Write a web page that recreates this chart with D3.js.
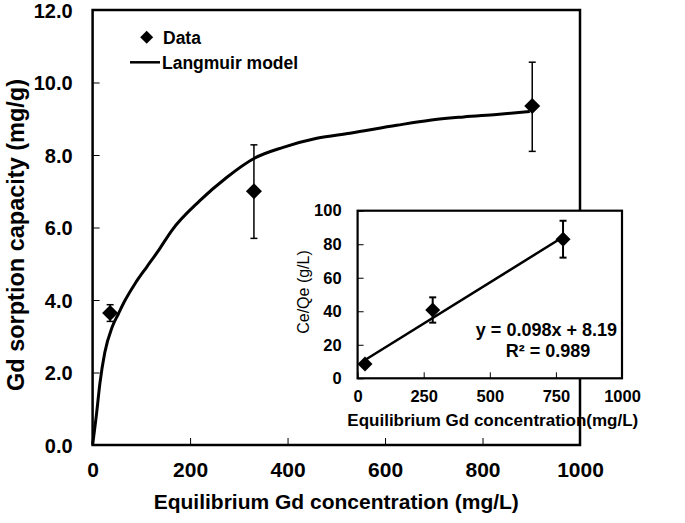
<!DOCTYPE html>
<html>
<head>
<meta charset="utf-8">
<script src="https://cdn.jsdelivr.net/npm/d3@7"></script>
<style>
  html, body { margin: 0; padding: 0; background: #fff; }
  svg { display: block; }
  text { font-family: "Liberation Sans", Arial, sans-serif; fill: #000; }
</style>
</head>
<body>
<svg id="chart" width="685" height="523"></svg>
<script>
// ---- Main chart data ----
const dataX = [36, 331, 902];
const dataY = [3.64, 7.0, 9.35];
const dataLow = [3.41, 5.70, 8.10];
const dataHigh = [3.87, 8.28, 10.56];

const modelX = [0, 8, 15, 25, 40, 53, 65, 87, 111, 135, 162, 220, 275, 332, 391, 460, 528, 624, 692, 761, 829, 897];
const modelY = [0, 0.85, 1.7, 2.55, 3.25, 3.62, 3.95, 4.45, 4.91, 5.36, 5.91, 6.74, 7.38, 7.91, 8.21, 8.46, 8.6, 8.82, 8.96, 9.05, 9.12, 9.2];

const mainXTicks = [0, 200, 400, 600, 800, 1000];
const mainYTicks = [0, 2, 4, 6, 8, 10, 12];

// ---- Inset data ----
const insetX = [28, 284, 777];
const insetY = [8.5, 40.8, 82.9];
const insetLow = [null, 33.2, 72.0];
const insetHigh = [null, 48.3, 94.0];
const fitX = [28, 777];
const fitY = [10.9, 84.3];
const insetXTicks = [0, 250, 500, 750, 1000];
const insetYTicks = [0, 20, 40, 60, 80, 100];

const svg = d3.select("#chart");
const FONT = "Liberation Sans, Arial, sans-serif";

// ---------- Main chart ----------
const x = d3.scaleLinear().domain([0, 1000]).range([92.6, 580]);
const y = d3.scaleLinear().domain([0, 12]).range([445, 10]);

svg.append("g")
  .attr("transform", `translate(0,${y(0)})`)
  .call(d3.axisBottom(x).tickValues(mainXTicks).tickSize(-7).tickPadding(17).tickFormat(d3.format("d")))
  .call(g => g.select(".domain").remove())
  .call(g => g.selectAll(".tick line").attr("stroke", "#000").attr("stroke-width", 1))
  .call(g => g.selectAll("text").attr("font-size", 21).attr("font-weight", "bold").attr("font-family", FONT));

svg.append("g")
  .attr("transform", `translate(${x(0)},0)`)
  .call(d3.axisLeft(y).tickValues(mainYTicks).tickSize(-7).tickPadding(20).tickFormat(d3.format(".1f")))
  .call(g => g.select(".domain").remove())
  .call(g => g.selectAll(".tick line").attr("stroke", "#000").attr("stroke-width", 1))
  .call(g => g.selectAll("text").attr("font-size", 20).attr("font-weight", "bold").attr("font-family", FONT).attr("dy", "0.36em"));

svg.append("rect")
  .attr("x", x(0)).attr("y", y(12))
  .attr("width", x(1000) - x(0)).attr("height", y(0) - y(12))
  .attr("fill", "none").attr("stroke", "#000").attr("stroke-width", 2.5);

// Langmuir curve
const modelPts = modelX.map((v, i) => [v, modelY[i]]);
svg.append("path")
  .datum(modelPts)
  .attr("fill", "none").attr("stroke", "#000").attr("stroke-width", 3)
  .attr("d", d3.line().x(d => x(d[0])).y(d => y(d[1])).curve(d3.curveMonotoneX));

// error bars
const mainPts = dataX.map((v, i) => ({x: v, y: dataY[i], lo: dataLow[i], hi: dataHigh[i]}));
const eb = svg.append("g").attr("stroke", "#000").attr("stroke-width", 1.5);
mainPts.forEach(d => {
  eb.append("line").attr("x1", x(d.x)).attr("x2", x(d.x)).attr("y1", y(d.lo)).attr("y2", y(d.hi));
  eb.append("line").attr("x1", x(d.x) - 3.5).attr("x2", x(d.x) + 3.5).attr("y1", y(d.lo)).attr("y2", y(d.lo));
  eb.append("line").attr("x1", x(d.x) - 3.5).attr("x2", x(d.x) + 3.5).attr("y1", y(d.hi)).attr("y2", y(d.hi));
});
const diamond = (cx, cy, r) => `M${cx},${cy - r}L${cx + r},${cy}L${cx},${cy + r}L${cx - r},${cy}Z`;
svg.append("g").selectAll("path").data(mainPts).join("path")
  .attr("d", d => diamond(x(d.x), y(d.y), 8)).attr("fill", "#000");

// axis titles
svg.append("text")
  .attr("x", (x(0) + x(1000)) / 2).attr("y", 509)
  .attr("text-anchor", "middle").attr("font-size", 21).attr("font-weight", "bold")
  .text("Equilibrium Gd concentration (mg/L)");

svg.append("text")
  .attr("transform", `translate(24,235) rotate(-90)`)
  .attr("text-anchor", "middle").attr("font-size", 23.5).attr("font-weight", "bold")
  .text("Gd sorption capacity (mg/g)");

// legend
svg.append("path").attr("d", diamond(146.7, 37.3, 6.5)).attr("fill", "#000");
svg.append("text").attr("x", 163).attr("y", 43.5).attr("font-size", 17.5).attr("font-weight", "bold").text("Data");
svg.append("line").attr("x1", 130).attr("x2", 160).attr("y1", 62.3).attr("y2", 62.3).attr("stroke", "#000").attr("stroke-width", 2.5);
svg.append("text").attr("x", 162).attr("y", 68.5).attr("font-size", 17.5).attr("font-weight", "bold").text("Langmuir model");

// ---------- Inset ----------
const ix = d3.scaleLinear().domain([0, 1000]).range([357.6, 622]);
const iy = d3.scaleLinear().domain([0, 100]).range([378.3, 210.7]);

svg.append("rect")
  .attr("x", ix(0)).attr("y", iy(100))
  .attr("width", ix(1000) - ix(0)).attr("height", iy(0) - iy(100))
  .attr("fill", "#fff").attr("stroke", "none");

svg.append("g")
  .attr("transform", `translate(0,${iy(0)})`)
  .call(d3.axisBottom(ix).tickValues(insetXTicks).tickSize(-6).tickPadding(12).tickFormat(d3.format("d")))
  .call(g => g.select(".domain").remove())
  .call(g => g.selectAll(".tick line").attr("stroke", "#000").attr("stroke-width", 1))
  .call(g => g.selectAll("text").attr("font-size", 16.5).attr("font-weight", "bold").attr("font-family", FONT));

svg.append("g")
  .attr("transform", `translate(${ix(0)},0)`)
  .call(d3.axisLeft(iy).tickValues(insetYTicks).tickSize(-6).tickPadding(16).tickFormat(d3.format("d")))
  .call(g => g.select(".domain").remove())
  .call(g => g.selectAll(".tick line").attr("stroke", "#000").attr("stroke-width", 1))
  .call(g => g.selectAll("text").attr("font-size", 16.5).attr("font-weight", "bold").attr("font-family", FONT));

svg.append("rect")
  .attr("x", ix(0)).attr("y", iy(100))
  .attr("width", ix(1000) - ix(0)).attr("height", iy(0) - iy(100))
  .attr("fill", "none").attr("stroke", "#000").attr("stroke-width", 2.2);

// fit line
const fitPts = fitX.map((v, i) => [v, fitY[i]]);
svg.append("path").datum(fitPts)
  .attr("fill", "none").attr("stroke", "#000").attr("stroke-width", 2.5)
  .attr("d", d3.line().x(d => ix(d[0])).y(d => iy(d[1])));

const insetPts = insetX.map((v, i) => ({x: v, y: insetY[i], lo: insetLow[i], hi: insetHigh[i]}));
const ieb = svg.append("g").attr("stroke", "#000").attr("stroke-width", 2);
insetPts.filter(d => d.lo !== null).forEach(d => {
  ieb.append("line").attr("x1", ix(d.x)).attr("x2", ix(d.x)).attr("y1", iy(d.lo)).attr("y2", iy(d.hi));
  ieb.append("line").attr("x1", ix(d.x) - 3.5).attr("x2", ix(d.x) + 3.5).attr("y1", iy(d.lo)).attr("y2", iy(d.lo));
  ieb.append("line").attr("x1", ix(d.x) - 3.5).attr("x2", ix(d.x) + 3.5).attr("y1", iy(d.hi)).attr("y2", iy(d.hi));
});
svg.append("g").selectAll("path").data(insetPts).join("path")
  .attr("d", d => diamond(ix(d.x), iy(d.y), 7.5)).attr("fill", "#000");

svg.append("text").attr("x", 617).attr("y", 336).attr("text-anchor", "end")
  .attr("font-size", 18).attr("font-weight", "bold").text("y = 0.098x + 8.19");
svg.append("text").attr("x", 548).attr("y", 357).attr("text-anchor", "middle")
  .attr("font-size", 18).attr("font-weight", "bold").text("R² = 0.989");

svg.append("text")
  .attr("x", (ix(0) + ix(1000)) / 2 + 3).attr("y", 426)
  .attr("text-anchor", "middle").attr("font-size", 17).attr("font-weight", "bold")
  .text("Equilibrium Gd concentration(mg/L)");

svg.append("text")
  .attr("transform", `translate(309,292) rotate(-90)`)
  .attr("text-anchor", "middle").attr("font-size", 16)
  .text("Ce/Qe (g/L)");
</script>
</body>
</html>
